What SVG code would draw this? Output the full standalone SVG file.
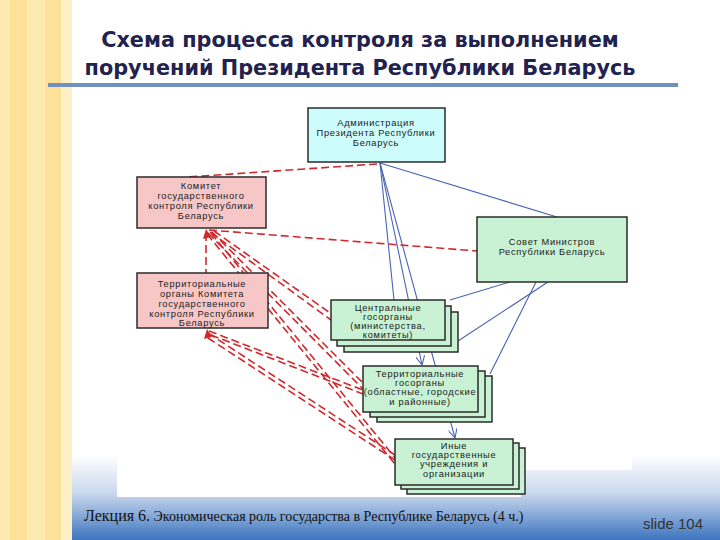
<svg xmlns="http://www.w3.org/2000/svg" width="720" height="540" viewBox="0 0 720 540">
  <defs>
    <linearGradient id="band" x1="0" y1="0" x2="0" y2="1">
      <stop offset="0" stop-color="#ffffff"/>
      <stop offset="0.45" stop-color="#c9d8ee"/>
      <stop offset="1" stop-color="#3c74bf"/>
    </linearGradient>
    <marker id="openV" viewBox="0 0 10 10" refX="10" refY="5" markerWidth="9" markerHeight="9" orient="auto" markerUnits="userSpaceOnUse">
      <path d="M0,0 L10,5 L0,10" fill="none" stroke="#4a64b4" stroke-width="1.2"/>
    </marker>
    <style>
      .title { font-family: "DejaVu Sans", "Liberation Sans", sans-serif; font-weight: bold; font-size: 20.8px; fill: #22224e; text-anchor: middle; }
      .box { stroke: #2b2b2b; stroke-width: 1.5; }
      .cyan { fill: #ccfcfc; }
      .pink { fill: #f7c7c7; }
      .green { fill: #c8f2d3; }
      .lbl { font-family: "Liberation Sans", Arial, sans-serif; font-size: 9.3px; letter-spacing: 0.7px; fill: #222; text-anchor: middle; }
      .red { stroke: #d2282c; stroke-width: 1.6; stroke-dasharray: 8 4; fill: none; }
      .blue { stroke: #4a64b4; stroke-width: 1.1; fill: none; }
    </style>
  </defs>

  <!-- background -->
  <rect x="0" y="0" width="720" height="540" fill="#ffffff"/>
  <rect x="72" y="455" width="648" height="85" fill="url(#band)"/>
  <rect x="117" y="100" width="515" height="370" fill="#ffffff"/>
  <rect x="117" y="470" width="404" height="27" fill="#ffffff"/>
  <rect x="0" y="0" width="72" height="540" fill="#fdeab0"/>
  <rect x="10" y="0" width="17" height="540" fill="#fce196"/>
  <rect x="45" y="0" width="16" height="540" fill="#fce196"/>
  <rect x="61" y="0" width="11" height="540" fill="#fdf0c6"/>
  <rect x="48" y="83" width="630" height="4" fill="#7090c2"/>

  <!-- title -->
  <text class="title" x="360" y="47">Схема процесса контроля за выполнением</text>
  <text class="title" x="360" y="75">поручений Президента Республики Беларусь</text>

  <!-- connectors -->
  <g id="connectors">
    <line class="blue" x1="380" y1="163" x2="557" y2="217"/>
    <line class="blue" x1="380" y1="163" x2="394" y2="300"/>
    <line class="blue" x1="380" y1="163" x2="422" y2="365" marker-end="url(#openV)"/>
    <line class="blue" x1="380" y1="163" x2="455" y2="438" marker-end="url(#openV)"/>
    <line class="blue" x1="510" y1="282" x2="450" y2="300"/>
    <line class="blue" x1="548" y1="282" x2="458" y2="341"/>
    <line class="blue" x1="536" y1="282" x2="490" y2="374"/>

    <line class="red" x1="377" y1="164" x2="188" y2="177"/>
    <line class="red" x1="209" y1="230" x2="477" y2="251"/>
    <line class="red" x1="206" y1="233" x2="206" y2="273"/>
    <line class="red" x1="210" y1="232" x2="331" y2="320"/>
    <line class="red" x1="214" y1="231" x2="333" y2="315"/>
    <line class="red" x1="208" y1="233" x2="363" y2="389"/>
    <line class="red" x1="212" y1="232" x2="364" y2="384"/>
    <line class="red" x1="207" y1="234" x2="395" y2="464"/>
    <line class="red" x1="211" y1="233" x2="396" y2="459"/>
    <line class="red" x1="209" y1="331" x2="363" y2="390"/>
    <line class="red" x1="211" y1="335" x2="363" y2="394"/>
    <line class="red" x1="208" y1="333" x2="395" y2="455"/>
    <line class="red" x1="208" y1="338" x2="395" y2="460"/>
    <polygon points="206,229 203,239 211,237" fill="#d2282c"/>
    <polygon points="207,329 204,339 212,337" fill="#d2282c"/>
  </g>

  <!-- nodes -->
  <g id="admin">
    <rect class="box cyan" x="308" y="108" width="137" height="54"/>
    <text class="lbl" x="376" y="126">Администрация</text>
    <text class="lbl" x="376" y="136">Президента Республики</text>
    <text class="lbl" x="376" y="146">Беларусь</text>
  </g>
  <g id="committee">
    <rect class="box pink" x="137" y="177" width="129" height="51"/>
    <text class="lbl" x="201" y="189">Комитет</text>
    <text class="lbl" x="201" y="199">государственного</text>
    <text class="lbl" x="201" y="209">контроля Республики</text>
    <text class="lbl" x="201" y="219">Беларусь</text>
  </g>
  <g id="terr-committee">
    <rect class="box pink" x="137" y="273" width="131" height="55"/>
    <text class="lbl" x="202" y="287">Территориальные</text>
    <text class="lbl" x="202" y="297">органы Комитета</text>
    <text class="lbl" x="202" y="307">государственного</text>
    <text class="lbl" x="202" y="317">контроля Республики</text>
    <text class="lbl" x="202" y="326">Беларусь</text>
  </g>
  <g id="council">
    <rect class="box green" x="477" y="217" width="150" height="65"/>
    <text class="lbl" x="552" y="245">Совет Министров</text>
    <text class="lbl" x="552" y="255">Республики Беларусь</text>
  </g>
  <g id="central">
    <rect class="box green" x="344" y="312" width="114" height="40"/>
    <rect class="box green" x="337" y="306" width="114" height="40"/>
    <rect class="box green" x="331" y="300" width="114" height="40"/>
    <text class="lbl" x="388" y="311">Центральные</text>
    <text class="lbl" x="388" y="320">госорганы</text>
    <text class="lbl" x="388" y="329">(министерства,</text>
    <text class="lbl" x="388" y="338">комитеты)</text>
  </g>
  <g id="territorial">
    <rect class="box green" x="377" y="376" width="115" height="46"/>
    <rect class="box green" x="370" y="371" width="115" height="46"/>
    <rect class="box green" x="363" y="366" width="115" height="46"/>
    <text class="lbl" x="420" y="377">Территориальные</text>
    <text class="lbl" x="420" y="386">госорганы</text>
    <text class="lbl" x="420" y="395">(областные, городские</text>
    <text class="lbl" x="420" y="405">и районные)</text>
  </g>
  <g id="other">
    <rect class="box green" x="407" y="448" width="118" height="46"/>
    <rect class="box green" x="401" y="443" width="118" height="46"/>
    <rect class="box green" x="395" y="439" width="118" height="46"/>
    <text class="lbl" x="454" y="449">Иные</text>
    <text class="lbl" x="454" y="458">государственные</text>
    <text class="lbl" x="454" y="467">учреждения и</text>
    <text class="lbl" x="454" y="477">организации</text>
  </g>

  <!-- footer -->
  <text x="84" y="521" font-family="'Liberation Serif', 'Times New Roman', serif" fill="#111"><tspan font-size="16">Лекция 6.</tspan><tspan font-size="14"> Экономическая роль государства в Республике Беларусь (4 ч.)</tspan></text>
  <text x="643" y="529" font-family="'Liberation Sans', Arial, sans-serif" font-size="15" fill="#333">slide 104</text>
</svg>
